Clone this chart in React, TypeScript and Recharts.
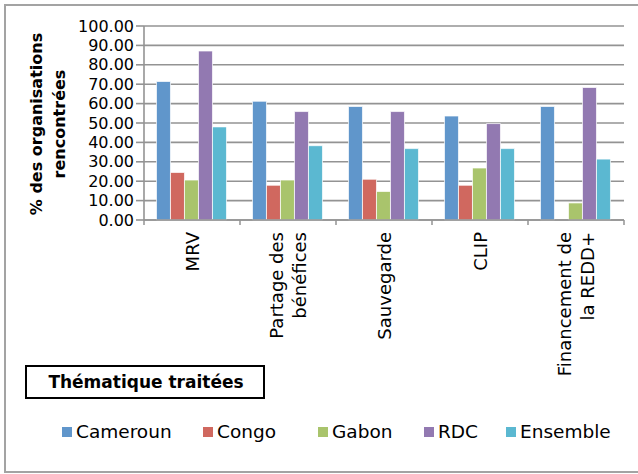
import React from 'react';
import { BarChart, Bar, XAxis, YAxis, CartesianGrid, Legend } from 'recharts';

const categories = ['MRV', 'Partage des\nbénéfices', 'Sauvegarde', 'CLIP', 'Financement de\nla REDD+'];
const seriesNames = ['Cameroun', 'Congo', 'Gabon', 'RDC', 'Ensemble'];
const cameroun = [71.4, 61.2, 58.5, 53.6, 58.5];
const congo = [24.5, 17.9, 21.0, 17.9, 0];
const gabon = [20.6, 20.6, 14.7, 26.8, 8.8];
const rdc = [87.1, 55.9, 55.9, 49.7, 68.3];
const ensemble = [48.0, 38.3, 36.8, 36.8, 31.4];
const yTicks = [0, 10, 20, 30, 40, 50, 60, 70, 80, 90, 100];
const yTitleLines = ['% des organisations', 'rencontrées'];
const xTitle = 'Thématique traitées';

const seriesValues = [cameroun, congo, gabon, rdc, ensemble];
const colors = ['#6096CB', '#D0685F', '#A9C46C', '#9279B1', '#5BB8D1'];
const FONT = '"DejaVu Sans", sans-serif';
const GRID = '#939393';

const data = categories.map((c, i) => {
  const row: Record<string, any> = { category: c };
  seriesNames.forEach((s, k) => {
    row[s] = seriesValues[k][i];
  });
  return row;
});

const XTick = (props: any) => {
  const { x, y, payload, index, visibleTicksCount } = props;
  const half = payload && payload.offset ? payload.offset : 48;
  const lines = String(payload.value).split('\n');
  const lh = 23;
  const capHalf = 6.5;
  const last = index === (visibleTicksCount ?? categories.length) - 1;
  return (
    <g>
      <line x1={x - half} x2={x - half} y1={y} y2={y + 5} stroke={GRID} strokeWidth={1.5} />
      {last && <line x1={x + half} x2={x + half} y1={y} y2={y + 5} stroke={GRID} strokeWidth={1.5} />}
      {lines.map((ln, i) => {
        const cx = x + (i - (lines.length - 1) / 2) * lh + capHalf;
        return (
          <text
            key={i}
            transform={`translate(${cx},${y + 12}) rotate(-90)`}
            textAnchor="end"
            fontFamily={FONT}
            fontSize={18}
            fill="#000"
          >
            {ln}
          </text>
        );
      })}
    </g>
  );
};

const YTitle = () => (
  <g>
    {yTitleLines.map((t, i) => (
      <text
        key={i}
        transform={`translate(${36 + i * 23},124) rotate(-90)`}
        textAnchor="middle"
        dominantBaseline="central"
        fontFamily={FONT}
        fontWeight="bold"
        fontSize={16}
        fill="#000"
      >
        {t}
      </text>
    ))}
  </g>
);

const XTitle = () => (
  <g>
    <rect x={26} y={366} width={238} height={32} fill="#fff" stroke="#000" strokeWidth={2} />
    <text x={146} y={382} textAnchor="middle" dominantBaseline="central" fontFamily={FONT} fontWeight="bold" fontSize={17} fill="#000">
      {xTitle}
    </text>
  </g>
);

const legendLeft = [62, 203, 318, 424, 506];

const renderLegend = () => {
  return (
    <div style={{ position: 'relative', width: 638, height: 0 }}>
      {seriesNames.map((name, i) => (
        <div
          key={name}
          style={{
            position: 'absolute',
            left: legendLeft[i],
            top: 421,
            display: 'flex',
            alignItems: 'center',
            whiteSpace: 'nowrap',
            fontFamily: FONT,
            fontSize: 18.5,
            color: '#000',
          }}
        >
          <span style={{ display: 'inline-block', width: 10, height: 10, background: colors[i], marginRight: 4 }} />
          <span>{name}</span>
        </div>
      ))}
    </div>
  );
};

export default function App() {
  return (
    <div style={{ position: 'fixed', left: 0, top: 0, width: 638, height: 474, overflow: 'hidden', background: '#fff' }}>
      <div
        style={{
          position: 'absolute',
          left: 4,
          top: 4,
          width: 660,
          height: 469,
          border: '2px solid #a3a3a3',
          boxSizing: 'border-box',
        }}
      />
      <div style={{ position: 'absolute', left: 0, top: 0 }}>
        <BarChart
          width={638}
          height={474}
          data={data}
          margin={{ top: 26, right: 14, left: 0, bottom: 0 }}
          barCategoryGap="13%"
          barGap={0}
        >
          <CartesianGrid vertical={false} stroke={GRID} strokeWidth={1.6} />
          <XAxis
            dataKey="category"
            height={254}
            interval={0}
            tickSize={0}
            tickMargin={0}
            tickLine={false}
            axisLine={{ stroke: GRID, strokeWidth: 1.6 }}
            tick={<XTick />}
            label={<XTitle />}
          />
          <YAxis
            width={144}
            domain={[0, 100]}
            ticks={yTicks}
            interval={0}
            tickSize={8}
            tickFormatter={(v: number) => v.toFixed(2)}
            axisLine={{ stroke: GRID, strokeWidth: 1.6 }}
            tickLine={{ stroke: GRID, strokeWidth: 1.6 }}
            tick={{ fontFamily: FONT, fontSize: 16, fill: '#000' }}
            label={<YTitle />}
          />
          <Legend
            layout="horizontal"
            verticalAlign="middle"
            align="center"
            content={renderLegend}
            wrapperStyle={{ left: 0, top: 0, width: 638, height: 0 }}
          />
          {seriesNames.map((s, k) => (
            <Bar
              key={s}
              dataKey={s}
              name={s}
              fill={colors[k]}
              stroke="#ffffff"
              strokeOpacity={0.7}
              strokeWidth={1}
              isAnimationActive={false}
            />
          ))}
        </BarChart>
      </div>
    </div>
  );
}
